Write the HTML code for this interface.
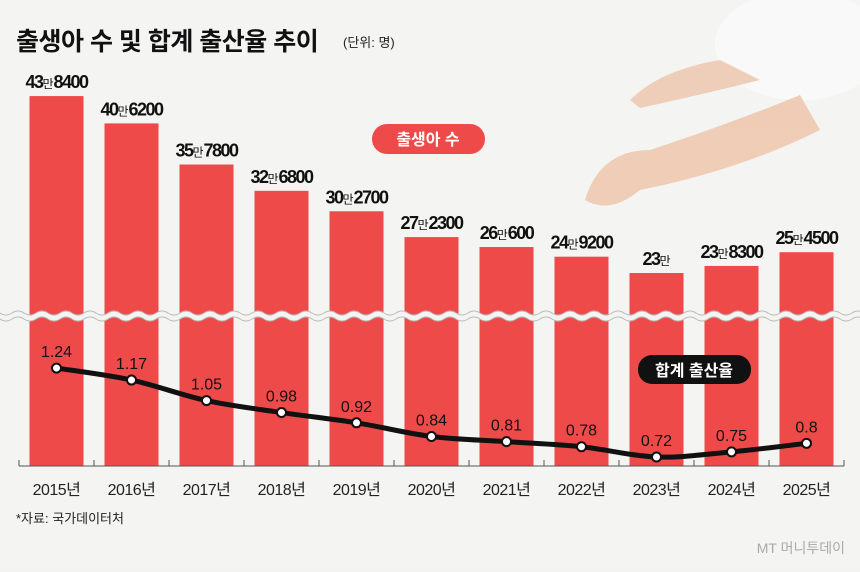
<!DOCTYPE html>
<html><head><meta charset="utf-8"><style>
body{margin:0;width:860px;height:567px;overflow:hidden;background:#f3f3f2;font-family:"Liberation Sans","Noto Sans CJK KR",sans-serif}
svg text{font-family:"Liberation Sans","Noto Sans CJK KR",sans-serif}
</style></head><body>
<svg id="c" width="860" height="567">
<rect x="0" y="0" width="860" height="567" fill="#f4f4f3"/>
<g opacity="0.85">
<ellipse cx="800" cy="45" rx="85" ry="55" fill="#fbfbfb"/>
<path d="M630 100 Q660 70 720 60 L760 80 Q700 95 640 108 Z" fill="#eec7b0"/>
<path d="M585 200 Q600 150 650 150 Q740 120 800 95 L820 130 Q740 170 640 190 Q610 215 585 200 Z" fill="#efc6ac"/>
</g>
<text x="16" y="50" font-size="25" font-weight="bold" fill="#111" letter-spacing="-0.5">출생아 수 및 합계 출산율 추이</text>
<text x="343" y="47" font-size="13" fill="#222">(단위: 명)</text>
<g id="bars"></g>
<g id="wave"></g>
<g id="line"></g>
<g id="axis"></g>
<g>
<rect x="372" y="124" width="113" height="30" rx="15" fill="#ee4a4a"/>
<text x="428" y="145" font-size="16" font-weight="bold" fill="#fff" text-anchor="middle">출생아 수</text>
</g>
<g>
<rect x="638" y="355" width="113" height="29" rx="14" fill="#111"/>
<text x="694" y="376" font-size="16" font-weight="bold" fill="#fff" text-anchor="middle">합계 출산율</text>
</g>
<text x="16" y="523" font-size="13" fill="#222">*자료: 국가데이터처</text>
<text x="845" y="553" font-size="14" fill="#aaa" text-anchor="end">MT 머니투데이</text>
</svg>
<script>
const years=["2015년","2016년","2017년","2018년","2019년","2020년","2021년","2022년","2023년","2024년","2025년"];
const births=[438400,406200,357800,326800,302700,272300,260600,249200,230000,238300,254500];
const birthLabels=[["43","8400"],["40","6200"],["35","7800"],["32","6800"],["30","2700"],["27","2300"],["26","600"],["24","9200"],["23",""],["23","8300"],["25","4500"]];
const rates=[1.24,1.17,1.05,0.98,0.92,0.84,0.81,0.78,0.72,0.75,0.8];
const NS="http://www.w3.org/2000/svg";
const xC=i=>56.5+i*75;
const yB=v=>273-(v/10000-23)*8.49;
const yR=v=>457-(v-0.72)*171;
const base=466,bw=54;
function mk(t,a,p){const e=document.createElementNS(NS,t);for(const k in a)e.setAttribute(k,a[k]);p.appendChild(e);return e;}
const gB=document.getElementById('bars'),gW=document.getElementById('wave'),gL=document.getElementById('line'),gA=document.getElementById('axis');
births.forEach((v,i)=>{
 const r=mk('rect',{x:xC(i)-bw/2,y:yB(v),width:bw,height:base-yB(v),fill:'#ee4a4a'},gB);
 
 
 const t=mk('text',{x:xC(i),y:yB(v)-8,'font-size':18,'font-weight':'bold','text-anchor':'middle',fill:'#111','letter-spacing':'-1.5'},gB);
 
 
 const a=mk('tspan',{},t);a.textContent=birthLabels[i][0];
 const b=mk('tspan',{'font-size':12,'font-weight':'normal','letter-spacing':'0'},t);b.textContent='만';
 const c=mk('tspan',{},t);c.textContent=birthLabels[i][1];
 const yl=mk('text',{x:xC(i),y:495,'font-size':16,'text-anchor':'middle',fill:'#222','letter-spacing':'-0.5'},gA);
 yl.textContent=years[i];
 
 
});
let d='M0 316';for(let x=0;x<=860;x+=12){d+=` Q${x+6} ${x/12%2?312:320} ${x+12} 316`;}
const wv=mk('path',{d:d,fill:'none',stroke:'#f4f4f3','stroke-width':5},gW);


mk('path',{d:d,fill:'none',stroke:'#bbb','stroke-width':1,transform:'translate(0,3)'},gW);
mk('path',{d:d,fill:'none',stroke:'#bbb','stroke-width':1,transform:'translate(0,-3)'},gW);
const ax=mk('line',{x1:19,x2:844,y1:base,y2:base,stroke:'#555','stroke-width':1},gA);


for(let i=0;i<=11;i++){mk('line',{x1:19+i*75,x2:19+i*75,y1:base-6,y2:base,stroke:'#555'},gA);}
const pts=rates.map((v,i)=>[xC(i),yR(v)]);
let p=`M${pts[0][0]} ${pts[0][1]}`;
for(let i=0;i<pts.length-1;i++){const p0=pts[Math.max(0,i-1)],p1=pts[i],p2=pts[i+1],p3=pts[Math.min(pts.length-1,i+2)];
 p+=` C${p1[0]+(p2[0]-p0[0])/6} ${p1[1]+(p2[1]-p0[1])/6} ${p2[0]-(p3[0]-p1[0])/6} ${p2[1]-(p3[1]-p1[1])/6} ${p2[0]} ${p2[1]}`;}
const ln=mk('path',{d:p,fill:'none',stroke:'#111','stroke-width':5,'stroke-linejoin':'round'},gL);


rates.forEach((v,i)=>{
 const c=mk('circle',{cx:xC(i),cy:yR(v),r:4.5,fill:'#fff',stroke:'#111','stroke-width':2},gL);
 
 
 const t=mk('text',{x:xC(i),y:yR(v)-11,'font-size':16,'text-anchor':'middle',fill:'#111'},gL);
 t.textContent=String(v);
 
 
});
</script>
</body></html>
